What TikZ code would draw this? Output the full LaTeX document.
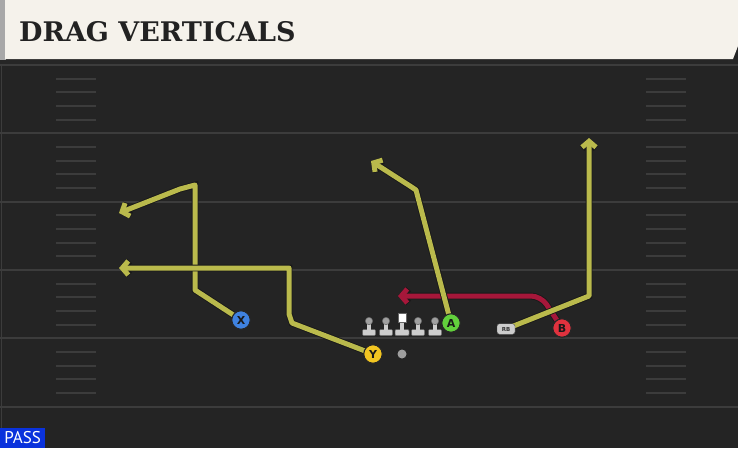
\documentclass[tikz,border=0pt]{standalone}
\usepackage{fontspec}
\setmainfont{DejaVu Sans}
\newfontfamily\titlefont{DejaVu Serif}
\newfontfamily\passfont{PT Sans}
\usetikzlibrary{arrows.meta}
\pgfdeclarelayer{fieldlayer}
\pgfdeclarelayer{routelayer}
\pgfsetlayers{fieldlayer,routelayer,main}
\definecolor{fieldbg}{HTML}{242424}
\definecolor{cream}{HTML}{F5F2EB}
\definecolor{edgegray}{HTML}{A8A8A8}
\definecolor{yardcol}{HTML}{3C3C3C}
\definecolor{titlecol}{HTML}{222222}
\definecolor{routecol}{RGB}{186,186,76}
\definecolor{redcol}{HTML}{A6173A}
\definecolor{passblue}{HTML}{0A32DC}
\definecolor{xblue}{HTML}{3F82E0}
\definecolor{ayellow}{HTML}{F2C521}
\definecolor{agreen}{HTML}{62D03C}
\definecolor{bred}{HTML}{E0323E}
\definecolor{helmet}{HTML}{A0A0A0}
\definecolor{basecol}{HTML}{CDCDCD}
\tikzset{
  yard/.style={draw=yardcol, line width=2pt},
  hashmark/.style={draw=yardcol, line width=1.8pt},
  route/.style={draw=routecol, line width=5pt, line join=round,
    -{Straight Barb[length=6pt,width=14pt]},
    preaction={draw=black!90, line width=6.8pt}},
  redroute/.style={draw=redcol, line width=5pt, rounded corners=10pt,
    -{Straight Barb[length=6pt,width=14pt]},
    preaction={draw=black!90, line width=6.8pt}},
  player/.style={circle, minimum size=18.5pt, inner sep=0pt, draw=black!85,
    line width=1.1pt, text=black!90, font=\bfseries\fontsize{11}{11}\selectfont},
  lineman/.pic={
    \fill[basecol, draw=black!60, line width=0.5pt, rounded corners=1pt] (-6.5,8.5) rectangle (6.5,14.5);
    \fill[basecol] (-2.3,1.5) rectangle (2.3,9);
    \fill[helmet, draw=black!60, line width=0.5pt] (0,0) circle (3.7);
  },
  centerman/.pic={
    \fill[basecol, draw=black!60, line width=0.5pt, rounded corners=1pt] (-7,8.5) rectangle (7,14.5);
    \fill[basecol] (-2.3,1) rectangle (2.3,9);
    \fill[white, draw=black!60, line width=0.5pt] (-4,-7.5) rectangle (4,1.2);
  }
}
\begin{document}
\begin{tikzpicture}[x=1pt,y=-1pt]
\useasboundingbox (0,0) rectangle (738,448);
\begin{pgfonlayer}{fieldlayer}
\fill[fieldbg] (0,0) rectangle (738,448);
\draw[yardcol, line width=1pt] (1.5,64) -- (1.5,448);
\foreach \k in {0,...,5} {
  \draw[yard] (0,65+68.33*\k) -- (738,65+68.33*\k);
}
\foreach \k in {0,...,4} {
  \foreach \j in {1,...,4} {
    \draw[hashmark] (56,65+68.33*\k+13.67*\j) -- (96,65+68.33*\k+13.67*\j);
    \draw[hashmark] (646,65+68.33*\k+13.67*\j) -- (686,65+68.33*\k+13.67*\j);
  }
}
\fill[black!85] (0,58) rectangle (738,64);
\fill[edgegray] (0,0) rectangle (6,60);
\fill[cream] (5,0) -- (738,0) -- (738,46) -- (733,59) -- (5,59) -- cycle;
\end{pgfonlayer}
\node[anchor=west, inner sep=0pt, text=titlecol,
  font=\titlefont\bfseries\fontsize{27}{27}\selectfont] (title) at (19,32) {DRAG VERTICALS};
\node[fill=passblue, text=white, anchor=south west, minimum width=45pt, minimum height=20pt,
  inner sep=0pt, font=\passfont\fontsize{17}{17}\selectfont] (pass) at (0,448) {PASS};
% players
\node[player, fill=xblue] (X) at (241,320) {X};
\node[player, fill=ayellow] (Y) at (373,354) {Y};
\node[player, fill=agreen] (A) at (451,323) {A};
\node[player, fill=bred] (B) at (562,328) {B};
\node[draw=black!70, fill=basecol, rounded corners=2.5pt, minimum width=18pt, minimum height=10.5pt,
  inner sep=0pt, text=black!80, font=\bfseries\fontsize{5.5}{5.5}\selectfont] (RB) at (506,329) {RB};
\node[circle, fill=gray!75, minimum size=9pt, inner sep=0pt] (QB) at (402,354) {};
\pic at (369,321) {lineman};
\pic at (386,321) {lineman};
\pic at (402,321) {centerman};
\pic at (418,321) {lineman};
\pic at (435,321) {lineman};
% route end points
\coordinate (xe) at (119,213);
\coordinate (ye) at (119,268);
\coordinate (ae) at (371,161);
\coordinate (re) at (589,138);
\coordinate (be) at (398,296);
\begin{pgfonlayer}{routelayer}
\draw[redroute] (B.center) -- (541,296) -- (be);
\draw[route] (X.center) -- (195,290) -- (195,185) -- (180,189) -- (xe);
\draw[route] (Y.center) -- (292,323) -- (289,314) -- (289,268) -- (ye);
\draw[route] (A.center) -- (416,190) -- (410,186) -- (ae);
\draw[route] (RB.center) -- (589,296) -- (re);
\end{pgfonlayer}
\end{tikzpicture}
\end{document}
